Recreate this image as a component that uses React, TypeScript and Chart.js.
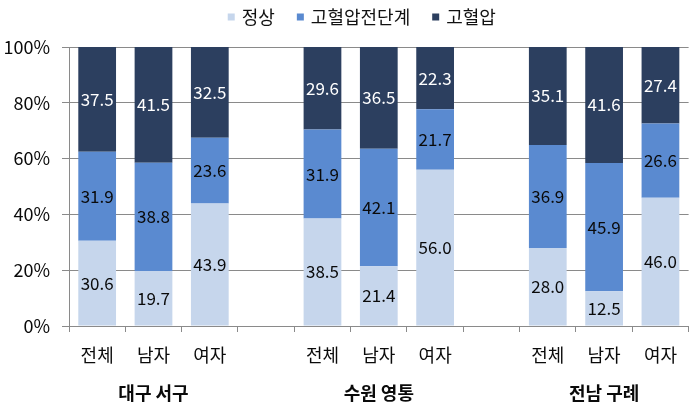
import React, { useEffect, useRef } from "react";
import { Chart, registerables } from "chart.js";

Chart.register(...registerables);

const categories = ["전체", "남자", "여자", "", "전체", "남자", "여자", "", "전체", "남자", "여자"];
const groupLabels = ["대구 서구", "수원 영통", "전남 구례"];
const groupCenterIndex = [1, 5, 9];
const seriesNames = ["정상", "고혈압전단계", "고혈압"];
const normal = [30.6, 19.7, 43.9, null, 38.5, 21.4, 56.0, null, 28.0, 12.5, 46.0];
const preHypertension = [31.9, 38.8, 23.6, null, 31.9, 42.1, 21.7, null, 36.9, 45.9, 26.6];
const hypertension = [37.5, 41.5, 32.5, null, 29.6, 36.5, 22.3, null, 35.1, 41.6, 27.4];
const yTicks = [0, 20, 40, 60, 80, 100];

const colors = ["#C6D6EC", "#5A8AD0", "#2C3F5F"];
const labelColors = ["#0a0a0a", "#0a0a0a", "#ffffff"];
const FONT = '"Noto Sans CJK KR", "Noto Sans", sans-serif';

const dataLabelPlugin = {
  id: "dataLabels",
  afterDatasetsDraw(chart: any) {
    const ctx = chart.ctx;
    ctx.save();
    ctx.font = `17px ${FONT}`;
    ctx.textAlign = "center";
    ctx.textBaseline = "middle";
    chart.data.datasets.forEach((ds: any, di: number) => {
      const meta = chart.getDatasetMeta(di);
      meta.data.forEach((el: any, i: number) => {
        const v = ds.data[i];
        if (v == null) return;
        const y = (el.y + el.base) / 2;
        ctx.fillStyle = labelColors[di];
        ctx.fillText(v.toFixed(1), el.x, y);
      });
    });
    ctx.restore();
  },
};

const groupAndLegendPlugin = {
  id: "groupAndLegend",
  afterDraw(chart: any) {
    const ctx = chart.ctx;
    const xScale = chart.scales.x;
    ctx.save();
    ctx.font = `bold 18px ${FONT}`;
    ctx.fillStyle = "#0a0a0a";
    ctx.textAlign = "center";
    ctx.textBaseline = "middle";
    groupLabels.forEach((g, i) => {
      ctx.fillText(g, xScale.getPixelForValue(groupCenterIndex[i]), 393);
    });

    // legend
    ctx.font = `18px ${FONT}`;
    const box = 7;
    const gapBox = 7;
    const gapItem = 22;
    const widths = seriesNames.map((n) => ctx.measureText(n).width);
    const total = widths.reduce((a, b) => a + b, 0) + seriesNames.length * (box + gapBox) + gapItem * (seriesNames.length - 1);
    const center = (chart.chartArea.left + chart.chartArea.right) / 2 - 17;
    let x = center - total / 2;
    const y = 17;
    ctx.textAlign = "left";
    seriesNames.forEach((n, i) => {
      ctx.fillStyle = colors[i];
      ctx.fillRect(x, y - box / 2, box, box);
      x += box + gapBox;
      ctx.fillStyle = "#111111";
      ctx.fillText(n, x, y);
      x += widths[i] + gapItem;
    });
    ctx.restore();
  },
};

export default function App() {
  const ref = useRef<HTMLCanvasElement>(null);
  useEffect(() => {
    if (!ref.current) return;
    const chart = new Chart(ref.current, {
      type: "bar",
      data: {
        labels: categories,
        datasets: [
          { label: seriesNames[0], data: normal, backgroundColor: colors[0] },
          { label: seriesNames[1], data: preHypertension, backgroundColor: colors[1] },
          { label: seriesNames[2], data: hypertension, backgroundColor: colors[2] },
        ] as any,
      },
      options: {
        responsive: false,
        animation: false,
        layout: { padding: { top: 47, left: 0, right: 0, bottom: 0 } },
        plugins: {
          legend: { display: false },
          tooltip: { enabled: false },
        },
        datasets: {
          bar: { categoryPercentage: 1, barPercentage: 0.67 },
        } as any,
        scales: {
          x: {
            stacked: true,
            afterFit: (s: any) => {
              s.height = 88;
            },
            grid: {
              offset: true,
              drawOnChartArea: false,
              drawTicks: true,
              tickLength: 6,
              color: "#8a8a8a",
            },
            border: { color: "#8a8a8a" },
            ticks: {
              color: "#0a0a0a",
              font: { size: 18, family: FONT },
              padding: 12,
              maxRotation: 0,
              autoSkip: false,
            },
          },
          y: {
            stacked: true,
            min: 0,
            max: 100,
            afterFit: (s: any) => {
              s.width = 69;
            },
            afterBuildTicks: (s: any) => {
              s.ticks = yTicks.map((v) => ({ value: v }));
            },
            grid: {
              color: "#8a8a8a",
              tickLength: 7,
            },
            border: { color: "#8a8a8a" },
            ticks: {
              color: "#0a0a0a",
              font: { size: 18, family: FONT },
              padding: 12,
              callback: (v: any) => `${v}%`,
            },
          },
        },
      },
      plugins: [dataLabelPlugin, groupAndLegendPlugin],
    });
    return () => chart.destroy();
  }, []);
  return (
    <div style={{ position: "fixed", left: 0, top: 0, width: 689, height: 414, background: "#fff" }}>
      <canvas ref={ref} width={689} height={414} style={{ width: 689, height: 414 }} />
    </div>
  );
}
